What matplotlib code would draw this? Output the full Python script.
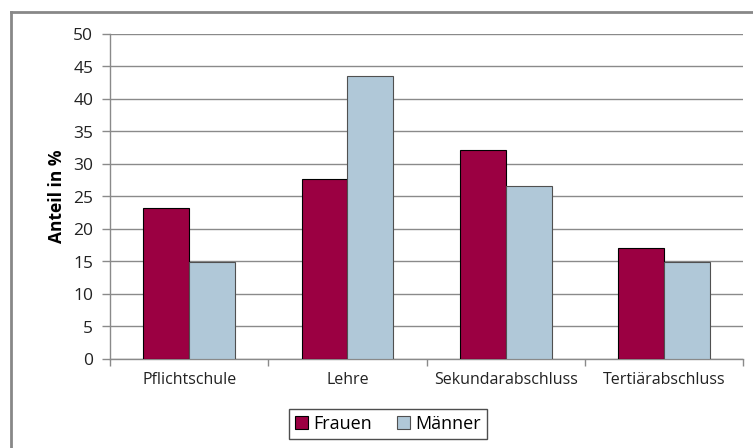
import matplotlib.pyplot as plt
import numpy as np
from matplotlib.lines import Line2D

categories = ["Pflichtschule", "Lehre", "Sekundarabschluss", "Tertiärabschluss"]
frauen = [23.2, 27.7, 32.1, 17.1]
maenner = [14.9, 43.5, 26.6, 14.9]
y_ticks = list(range(0, 55, 5))

plt.rcParams['font.family'] = ['Open Sans', 'DejaVu Sans']

W, H = 753, 448
# small margin so the pixel size doesn't round down
fig = plt.figure(figsize=(W / 100 + 0.002, H / 100 + 0.002), dpi=100)

# plot area in pixel coordinates
left, right, top, bottom = 110, 743, 34, 359
ax = fig.add_axes([left / W, 1 - bottom / H, (right - left) / W, (bottom - top) / H])

x = np.arange(len(categories))
width = 0.29
ax.bar(x - width / 2, frauen, width, color="#9b0042", edgecolor="black", linewidth=0.8,
       label="Frauen", zorder=3)
ax.bar(x + width / 2, maenner, width, color="#b0c8d8", edgecolor="#505050", linewidth=0.8,
       label="Männer", zorder=3)

ax.set_xlim(-0.5, len(categories) - 0.5)
ax.set_ylim(0, 50)
ax.set_yticks(y_ticks)
ax.set_yticklabels([str(v) for v in y_ticks], fontsize=12.5, color="#222222")
ax.yaxis.grid(True, color="#8a8a8a", linewidth=1)
ax.set_axisbelow(True)

# category labels centred, tick marks on category boundaries
ax.set_xticks(x)
ax.set_xticklabels(categories, fontsize=11.5, color="#222222")
ax.tick_params(axis="x", length=0, pad=9)
ax.set_xticks(np.arange(-0.5, len(categories)), minor=True)
ax.tick_params(axis="x", which="minor", length=5, color="#8a8a8a", width=1)
ax.tick_params(axis="y", length=6, color="#8a8a8a", width=1, pad=6)

for s in ["top", "right"]:
    ax.spines[s].set_visible(False)
for s in ["left", "bottom"]:
    ax.spines[s].set_color("#8a8a8a")
    ax.spines[s].set_linewidth(1)

ax.set_ylabel("Anteil in %", fontsize=12.5, fontweight="bold", labelpad=5)

leg = fig.legend(loc="center", bbox_to_anchor=(388 / W, 1 - 424 / H), ncol=2, fontsize=13,
                 frameon=True, fancybox=False, edgecolor="#222222", borderpad=0.35,
                 handlelength=0.7, handleheight=0.7, handletextpad=0.3, columnspacing=1.4)
leg.get_frame().set_linewidth(1)

# chart border: only the left and top edges fall inside the image
bx, by = 11 / W, 1 - 12 / H
fig.add_artist(Line2D([bx, bx], [0, by], transform=fig.transFigure, color="#888888", linewidth=2))
fig.add_artist(Line2D([bx, 1], [by, by], transform=fig.transFigure, color="#888888", linewidth=2))

fig.savefig("out.png", dpi=100)
